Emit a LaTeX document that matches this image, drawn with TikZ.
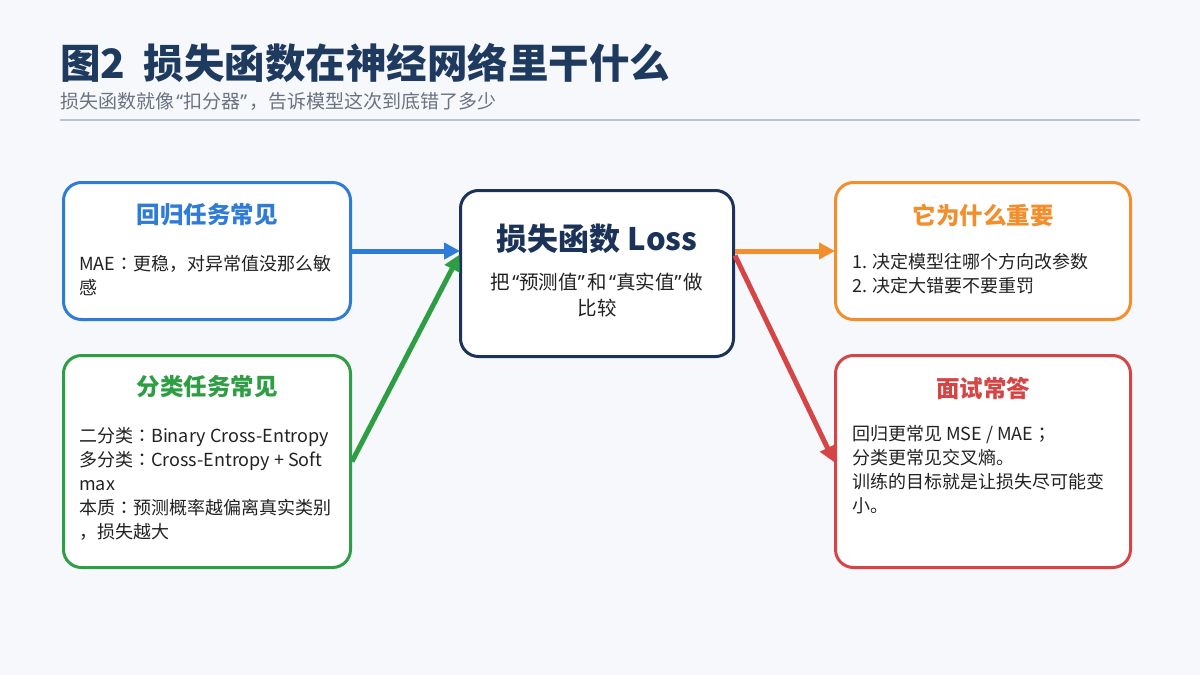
\documentclass[tikz,border=0pt]{standalone}
\usepackage{fontspec}
\setmainfont{Noto Sans CJK SC}
\newfontfamily\tcfont{Noto Sans CJK TC}
\newfontfamily\qfont{Noto Sans}
\newcommand{\mycolon}{{\tcfont ：}}
\newcommand{\mysemi}{{\tcfont ；}}
\newcommand{\myLq}{{\qfont\hspace{0.12em}“}}
\newcommand{\myRq}{{\qfont ”\hspace{0.12em}}}
\usetikzlibrary{arrows.meta}
\definecolor{bgc}{HTML}{F6F8FC}
\definecolor{navy}{HTML}{1E3A5F}
\definecolor{boxnavy}{HTML}{1B3358}
\definecolor{subgray}{HTML}{6B7280}
\definecolor{rulec}{HTML}{B8C4D4}
\definecolor{bluec}{HTML}{2F7BD8}
\definecolor{greenc}{HTML}{2E9E44}
\definecolor{orangec}{HTML}{F28E2B}
\definecolor{redc}{HTML}{D64545}
\definecolor{bodyc}{HTML}{222222}
\tikzset{
  card/.style={draw=#1, line width=3pt, fill=white, rounded corners=18pt, anchor=north west, inner sep=0pt},
  cardtitle/.style={text=#1, font=\fontsize{23.5}{28}\selectfont\bfseries, inner sep=0pt, anchor=center},
  bodytext/.style={text=bodyc, font=\fontsize{18}{24}\selectfont, inner sep=0pt, anchor=north west, align=left},
  conn/.style={draw=#1, line width=5pt, -{Triangle[length=16pt,width=16pt]}, shorten >=-1pt},
}
\begin{document}
\begin{tikzpicture}[x=1pt,y=-1pt]
\path[fill=bgc] (0,0) rectangle (1200,675);
\useasboundingbox (0,0) rectangle (1200,675);
% title
\node[anchor=base west, inner sep=0pt, text=navy, font=\fontsize{40.5}{46}\selectfont\bfseries] (title) at (60,78) {图2\hspace{0.45em}损失函数在神经网络里干什么};
\node[anchor=base west, inner sep=0pt, text=subgray, font=\fontsize{19}{22}\selectfont] (subtitle) at (60,108) {损失函数就像\myLq 扣分器\myRq，告诉模型这次到底错了多少};
\coordinate (ruleL) at (60,120);
\coordinate (ruleR) at (1140,120);
\draw[rulec, line width=2pt] (ruleL) -- (ruleR);
% cards
\node[card=bluec, minimum width=287pt, minimum height=137pt] (blue) at (62,181) {};
\node[card=greenc, minimum width=287pt, minimum height=212pt] (green) at (62,354) {};
\node[card=boxnavy, minimum width=273pt, minimum height=166pt] (center) at (459,189) {};
\node[card=orangec, minimum width=295pt, minimum height=137pt] (orange) at (834,181) {};
\node[card=redc, minimum width=295pt, minimum height=212pt] (red) at (834,354) {};
% titles
\node[cardtitle=bluec] (bluet) at (207,215) {回归任务常见};
\node[cardtitle=greenc] (greent) at (207,387) {分类任务常见};
\node[cardtitle=orangec] (oranget) at (983,215) {它为什么重要};
\node[cardtitle=redc] (redt) at (983,388) {面试常答};
\node[inner sep=0pt, text=boxnavy, font=\fontsize{31}{36}\selectfont\bfseries] (centert) at (597,239) {损失函数 Loss};
\node[inner sep=0pt, text=bodyc, font=\fontsize{19.5}{26}\selectfont, align=center, anchor=north] (centerb) at (597,273) {把\myLq 预测值\myRq 和\myLq 真实值\myRq 做\\比较};
% bodies
\node[bodytext] (blueb) at (79,255) {MAE\mycolon 更稳，对异常值没那么敏\\感};
\node[bodytext] (greenb) at (79,427) {二分类\mycolon Binary Cross-Entropy\\多分类\mycolon Cross-Entropy + Soft\\max\\本质\mycolon 预测概率越偏离真实类别\\，损失越大};
\node[bodytext] (orangeb) at (852,253) {1. 决定模型往哪个方向改参数\\2. 决定大错要不要重罚};
\node[bodytext] (redb) at (852,425) {回归更常见 MSE / MAE\mysemi\\分类更常见交叉熵。\\训练的目标就是让损失尽可能变\\小。};
% connectors
\coordinate (cinB) at (center.west |- blue.east);
\coordinate (cinG) at ([yshift=18pt]center.west);
\coordinate (coutO) at (center.east |- orange.west);
\coordinate (coutR) at ([yshift=18pt]center.east);
\draw[conn=bluec] (blue.east) -- (cinB);
\draw[conn=greenc] (green.east) -- (cinG);
\draw[conn=orangec] (coutO) -- (orange.west);
\draw[conn=redc] (coutR) -- (red.west);
\end{tikzpicture}
\end{document}
